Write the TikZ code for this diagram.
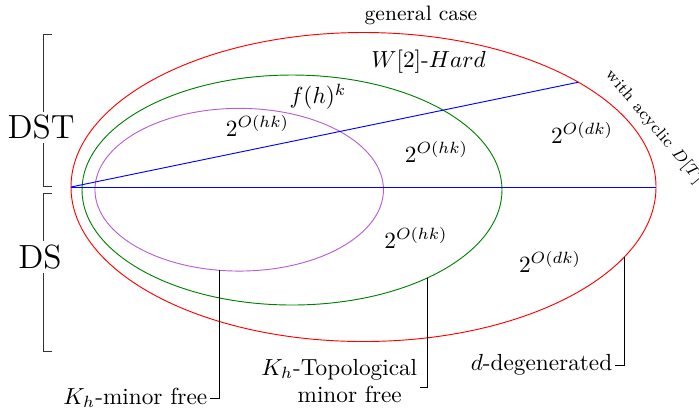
\documentclass[tikz,border=0pt]{standalone}
\usetikzlibrary{shapes.geometric}
\definecolor{lilac}{RGB}{180,95,210}
\newcommand{\pxl}{0.0151cm}
\begin{document}
\begin{tikzpicture}[x=0.0151cm, y=-0.0151cm]
    % Style definition for the graph classes
    \tikzset{region/.style={ellipse, draw, inner sep=0pt, outer sep=0pt}}
    \tikzstyle{pointer} = [thin, black]
    \tikzstyle{bracket} = [thin, black!80]
    \tikzstyle{tag} = [anchor=east, inner sep=1pt]

    \useasboundingbox (0,0) rectangle (699,408);

    % Nested graph classes
    \node (degenclass) [region, draw=red, minimum width=585*\pxl, minimum height=309*\pxl] at (363.5,187) {};
    \node (topoclass) [region, draw=green!50!black, minimum width=420*\pxl, minimum height=230*\pxl] at (292,190) {};
    \node (minorclass) [region, draw=lilac, minimum width=288.5*\pxl, minimum height=162.7*\pxl] at (239.2,189.7) {};

    % Split between DS and DST
    \draw [blue] (degenclass.west) -- (degenclass.east);
    \draw [blue] (degenclass.west) -- (degenclass.26);

    % Running times
    \node (general) [font=\small] at (421,15) {general case};
    \node (hard) at (428.5,61.5) {$W[2]$-$Hard$};
    \node (fhk) at (318,97) {$f(h)^k$};
    \node (minorcost) at (257.5,126) {$2^{O(hk)}$};
    \node (topocost) at (436.5,152) {$2^{O(hk)}$};
    \node (topocostds) at (416,238) {$2^{O(hk)}$};
    \node (degencost) at (582,133) {$2^{O(dk)}$};
    \node (degencostds) at (550,262) {$2^{O(dk)}$};
    \node (acyclic) [font=\scriptsize, rotate=-50] at (654,127) {with acyclic $D[T]$};

    % Brackets on the left
    \draw [bracket] (52,34.5) -- (43,34.5) -- (43,186) -- (52,186);
    \draw [bracket] (52,193) -- (43,193) -- (43,351) -- (52,351);
    \node (dst) [font=\Large, fill=white, inner xsep=0pt, inner ysep=1.5pt] at (41,127.5) {DST};
    \node (ds) [font=\Large, fill=white, inner xsep=0pt, inner ysep=1.5pt] at (40,257) {DS};

    % Class names
    \node (minorfree) [tag] at (210,398) {$K_h$-minor free};
    \node (topofree) [tag, align=center] at (420,381) {$K_h$-Topological\\\hspace*{9pt}minor free};
    \node (degenerated) [tag] at (615,365) {$d$-degenerated};

    % Pointers
    \draw [pointer] (minorclass.-104) |- (minorfree.east);
    \draw [pointer] (topoclass.-33) |- ([yshift=-6*\pxl]topofree.east);
    \draw [pointer] (degenclass.-15.4) |- (degenerated.east);

\end{tikzpicture}
\end{document}
